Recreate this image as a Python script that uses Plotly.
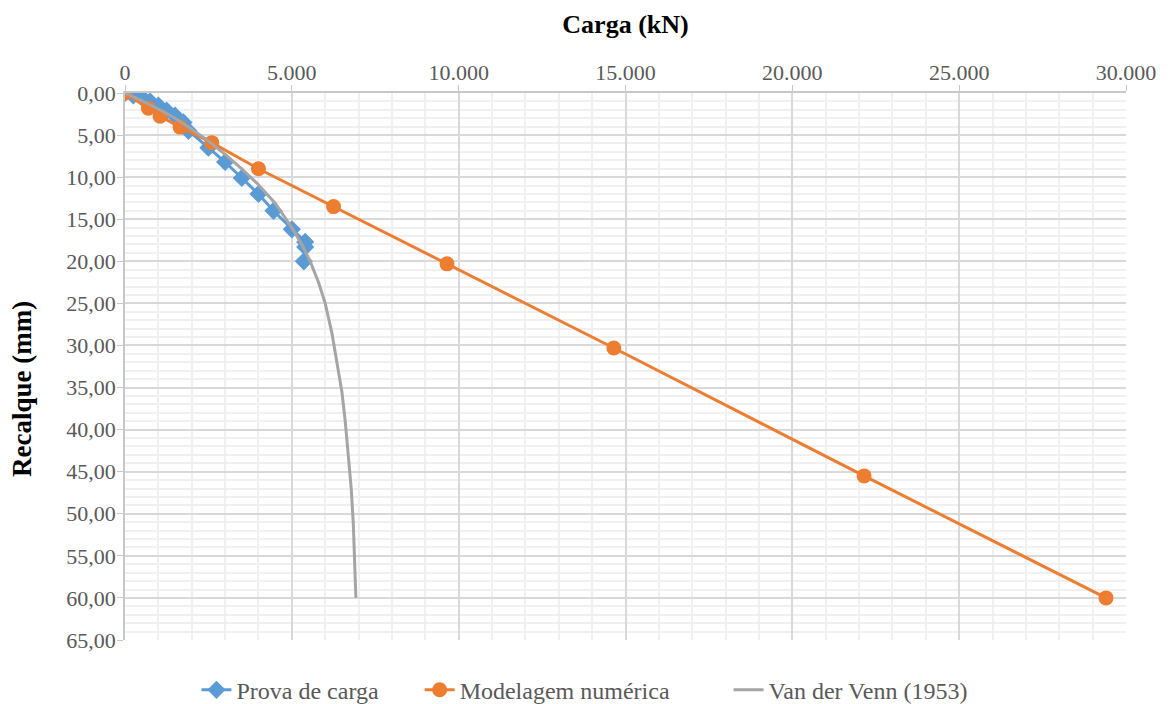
import plotly.graph_objects as go

# Prova de carga (load test)
prova_carga = [0, 250, 500, 750, 1000, 1250, 1500, 1750, 1900, 2500, 3000, 3500, 4000, 4450, 5000, 5400, 5400, 5360]
prova_recalque = [0, 0.3, 0.5, 1.0, 1.5, 2.1, 2.7, 3.5, 4.5, 6.5, 8.2, 10.1, 12.0, 14.0, 16.2, 17.7, 18.3, 20.0]

# Modelagem numérica
modelo_carga = [0, 700, 1050, 1650, 2600, 4000, 6250, 9650, 14650, 22150, 29400]
modelo_recalque = [0, 1.8, 2.75, 4.05, 5.9, 9.0, 13.5, 20.3, 30.3, 45.5, 60.0]

# Van der Veen (1953)
vdv_carga = [0, 500, 1000, 1500, 2000, 2500, 3000, 3500, 4000, 4500, 5000, 5300, 5550,
             5800, 6000, 6200, 6350, 6500, 6600, 6700, 6780, 6840, 6880, 6920]
vdv_recalque = [0, 0.9, 1.9, 3.0, 4.3, 5.7, 7.3, 9.0, 10.9, 13.1, 16.0, 18.0, 20.0,
                22.5, 25.0, 28.5, 32.0, 35.5, 39.0, 43.0, 47.0, 51.0, 55.0, 60.0]

x_ticks = [0, 5000, 10000, 15000, 20000, 25000, 30000]
y_ticks = [0, 5, 10, 15, 20, 25, 30, 35, 40, 45, 50, 55, 60, 65]

font_family = "Liberation Serif"
tick_color = "#595959"
NB = "\u00a0"

fig = go.Figure()
fig.add_trace(go.Scatter(
    x=prova_carga, y=prova_recalque, name="Prova de carga" + NB * 6, mode="lines+markers",
    line=dict(color="#5b9bd5", width=3),
    marker=dict(symbol="diamond", size=14, color="#5b9bd5"),
))
fig.add_trace(go.Scatter(
    x=modelo_carga, y=modelo_recalque, name="Modelagem numérica" + NB * 9, mode="lines+markers",
    line=dict(color="#ed7d31", width=3),
    marker=dict(symbol="circle", size=15, color="#ed7d31"),
))
fig.add_trace(go.Scatter(
    x=vdv_carga, y=vdv_recalque, name="Van der Venn (1953)", mode="lines",
    line=dict(color="#a5a5a5", width=3),
))

fig.update_layout(
    width=1170, height=704,
    margin=dict(l=117, r=52, t=85, b=72),
    paper_bgcolor="white", plot_bgcolor="white",
    separators=",.",
    font=dict(family=font_family, size=22, color=tick_color),
    legend=dict(orientation="h", xref="container", x=0.4927, xanchor="center",
                yref="container", y=0.031, yanchor="middle",
                font=dict(family=font_family, size=24, color=tick_color),
                traceorder="normal"),
    xaxis=dict(
        side="top", range=[0, 30000], tickvals=x_ticks, tickformat=",d",
        automargin=False,
        showgrid=True, gridcolor="#d9d9d9", gridwidth=1.5,
        minor=dict(dtick=1000, showgrid=True, gridcolor="#f0f0f0", gridwidth=1.5),
        zeroline=False, showline=True, linecolor="#c8c8c8", linewidth=1.5,
        ticks="outside", ticklen=6, tickcolor="#c8c8c8",
        ticklabelstandoff=-4,
        tickfont=dict(family=font_family, size=22, color=tick_color),
        title=dict(text="<b>Carga (kN)</b>", standoff=19,
                   font=dict(family=font_family, size=26, color="black")),
    ),
    yaxis=dict(
        range=[65, 0], tickvals=y_ticks, tickformat=".2f",
        automargin=False,
        showgrid=True, gridcolor="#d9d9d9", gridwidth=1.5,
        minor=dict(dtick=1, showgrid=True, gridcolor="#f0f0f0", gridwidth=1.5),
        zeroline=False, showline=True, linecolor="#c8c8c8", linewidth=1.5,
        ticks="outside", ticklen=6, tickcolor="#c8c8c8",
        ticklabelstandoff=-3,
        tickfont=dict(family=font_family, size=22, color=tick_color),
    ),
    annotations=[dict(
        text="<b>Recalque (mm)</b>", textangle=-90, showarrow=False,
        xref="paper", x=-0.1029, xanchor="center",
        yref="paper", y=0.459, yanchor="middle",
        font=dict(family=font_family, size=27, color="black"),
    )],
)

fig.write_html("out.html")
